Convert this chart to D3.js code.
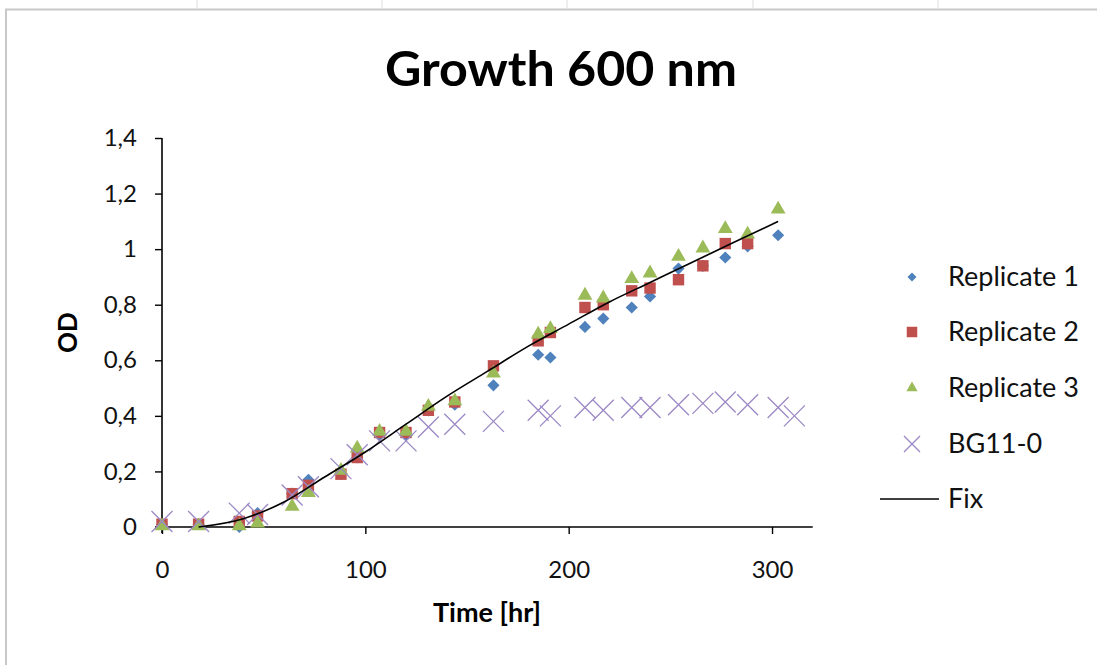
<!DOCTYPE html>
<html>
<head>
<meta charset="utf-8">
<script src="https://cdn.jsdelivr.net/npm/d3@7"></script>
<style>
  body { margin: 0; background: #fff; }
  svg { display: block; font-family: Lato, "Open Sans", sans-serif; }
</style>
</head>
<body>
<div id="chart"></div>
<script>
// Data
const times = [0, 18, 38, 47, 64, 72, 88, 96, 107, 120, 131, 144, 163, 185, 191, 208, 217, 231, 240, 254, 266, 277, 288, 303, 311];

const rep1 = [0.01, 0.01, 0.00, 0.05, 0.12, 0.17, 0.19, 0.25, 0.33, 0.33, 0.42, 0.44, 0.51, 0.62, 0.61, 0.72, 0.75, 0.79, 0.83, 0.93, 0.94, 0.97, 1.01, 1.05, null];
const rep2 = [0.01, 0.01, 0.02, 0.04, 0.12, 0.15, 0.19, 0.25, 0.34, 0.34, 0.42, 0.45, 0.58, 0.67, 0.70, 0.79, 0.80, 0.85, 0.86, 0.89, 0.94, 1.02, 1.02, null, null];
const rep3 = [0.00, 0.00, 0.00, 0.01, 0.07, 0.12, 0.20, 0.28, 0.34, 0.34, 0.43, 0.45, 0.55, 0.69, 0.71, 0.83, 0.82, 0.89, 0.91, 0.97, 1.00, 1.07, 1.05, 1.14, null];
const bg11 = [0.02, 0.02, 0.05, 0.045, 0.115, 0.145, 0.21, 0.26, 0.31, 0.31, 0.36, 0.37, 0.38, 0.42, 0.40, 0.43, 0.42, 0.43, 0.43, 0.44, 0.445, 0.45, 0.44, 0.43, 0.40];

const fixTimes  = [18, 40, 60, 80, 100, 120, 140, 160, 180, 200, 220, 240, 260, 280, 303];
const fixValues = [0.00, 0.03, 0.09, 0.18, 0.27, 0.37, 0.47, 0.56, 0.65, 0.73, 0.81, 0.88, 0.95, 1.02, 1.10];

const xTicks = [0, 100, 200, 300];
const yTicks = [0, 0.2, 0.4, 0.6, 0.8, 1, 1.2, 1.4];
const yTickLabels = ["0", "0,2", "0,4", "0,6", "0,8", "1", "1,2", "1,4"];

const seriesNames = ["Replicate 1", "Replicate 2", "Replicate 3", "BG11-0", "Fix"];

// Layout
const width = 1097, height = 665;
const plot = { left: 162, right: 812.7, top: 138, bottom: 527 };
const colors = { rep1: "#4F81BD", rep2: "#C0504D", rep3: "#9BBB59", bg11: "#9B88C4", fix: "#000" };
const tickFont = 24;
const titleFont = 27;
const legendFont = 27;

const svg = d3.select("#chart").append("svg")
  .attr("width", width)
  .attr("height", height);

// Chart frame (spreadsheet border)
svg.append("path")
  .attr("d", `M6,${height} V9.5 H${width}`)
  .attr("fill", "none")
  .attr("stroke", "#c8c8c8")
  .attr("stroke-width", 2);
[197, 382, 567, 753, 938].forEach(gx => {
  svg.append("line")
    .attr("x1", gx).attr("x2", gx).attr("y1", 0).attr("y2", 8)
    .attr("stroke", "#ddd").attr("stroke-width", 1);
});

const x = d3.scaleLinear().domain([0, 320]).range([plot.left, plot.right]);
const y = d3.scaleLinear().domain([0, 1.4]).range([plot.bottom, plot.top]);

// Title
svg.append("text")
  .attr("x", 561)
  .attr("y", 86)
  .attr("text-anchor", "middle")
  .attr("font-weight", "bold")
  .attr("font-size", 48)
  .attr("textLength", 352)
  .attr("lengthAdjust", "spacingAndGlyphs")
  .text("Growth 600 nm");

// Y axis
const yAxisG = svg.append("g")
  .attr("transform", `translate(${plot.left},0)`)
  .call(d3.axisLeft(y)
    .tickValues(yTicks)
    .tickSize(7)
    .tickSizeOuter(0)
    .tickPadding(18)
    .tickFormat((d, i) => yTickLabels[i]));
yAxisG.select(".domain").attr("stroke", "#000").attr("stroke-width", 1.6)
  .attr("d", `M0,${plot.top}V${plot.bottom + 6}`);
yAxisG.selectAll(".tick line").attr("stroke", "#000").attr("stroke-width", 1.4);
yAxisG.selectAll(".tick text")
  .attr("font-size", tickFont)
  .attr("font-family", "Lato, sans-serif")
  .attr("fill", "#111");

// X axis
const xAxisG = svg.append("g")
  .attr("transform", `translate(0,${plot.bottom})`)
  .call(d3.axisBottom(x)
    .tickValues(xTicks)
    .tickSize(7)
    .tickSizeOuter(0)
    .tickPadding(27));
xAxisG.select(".domain").attr("stroke", "#000").attr("stroke-width", 1.6)
  .attr("d", `M${plot.left - 7},0H${plot.right}`);
xAxisG.selectAll(".tick line").attr("stroke", "#000").attr("stroke-width", 1.4);
xAxisG.selectAll(".tick text")
  .attr("font-size", tickFont)
  .attr("font-family", "Lato, sans-serif")
  .attr("fill", "#111");

// Axis titles
svg.append("text")
  .attr("x", 487)
  .attr("y", 622)
  .attr("text-anchor", "middle")
  .attr("font-weight", "bold")
  .attr("font-size", titleFont)
  .text("Time [hr]");

svg.append("text")
  .attr("transform", `translate(77,${(plot.top + plot.bottom) / 2}) rotate(-90)`)
  .attr("text-anchor", "middle")
  .attr("font-weight", "bold")
  .attr("font-size", 26)
  .text("OD");

// Marker helpers
const diamond = d3.symbol().type(d3.symbolSquare).size(74);
const square = d3.symbol().type(d3.symbolSquare).size(130);
const triangle = d3.symbol().type(d3.symbolTriangle).size(95);
function crossPath(s) {
  return `M${-s},${-s}L${s},${s}M${-s},${s}L${s},${-s}`;
}

function pairs(vals) {
  return times.map((t, i) => ({ t, v: vals[i] })).filter(d => d.v !== null);
}

const marks = svg.append("g");

marks.selectAll(".rep1")
  .data(pairs(rep1))
  .enter().append("path")
  .attr("class", "rep1")
  .attr("d", diamond)
  .attr("transform", d => `translate(${x(d.t)},${y(d.v)}) rotate(45)`)
  .attr("fill", colors.rep1);

marks.selectAll(".rep2")
  .data(pairs(rep2))
  .enter().append("path")
  .attr("class", "rep2")
  .attr("d", square)
  .attr("transform", d => `translate(${x(d.t)},${y(d.v)})`)
  .attr("fill", colors.rep2);

marks.selectAll(".rep3")
  .data(pairs(rep3))
  .enter().append("path")
  .attr("class", "rep3")
  .attr("d", triangle)
  .attr("transform", d => `translate(${x(d.t)},${y(d.v) - 1})`)
  .attr("fill", colors.rep3);

marks.selectAll(".bg11")
  .data(pairs(bg11))
  .enter().append("path")
  .attr("class", "bg11")
  .attr("d", crossPath(10.5))
  .attr("transform", d => `translate(${x(d.t)},${y(d.v)})`)
  .attr("fill", "none")
  .attr("stroke", colors.bg11)
  .attr("stroke-width", 1.3);

// Fitted line
const line = d3.line()
  .x((d, i) => x(fixTimes[i]))
  .y(d => y(d))
  .curve(d3.curveMonotoneX);
svg.append("path")
  .datum(fixValues)
  .attr("d", line)
  .attr("fill", "none")
  .attr("stroke", colors.fix)
  .attr("stroke-width", 1.6);

// Legend
const legendY = [277, 332, 388, 444, 499];
const legend = svg.append("g");
seriesNames.forEach((name, i) => {
  const g = legend.append("g").attr("transform", `translate(912,${legendY[i]})`);
  if (i === 0) g.append("path").attr("d", d3.symbol().type(d3.symbolSquare).size(40)).attr("transform", "rotate(45)").attr("fill", colors.rep1);
  if (i === 1) g.append("path").attr("d", d3.symbol().type(d3.symbolSquare).size(110)).attr("fill", colors.rep2);
  if (i === 2) g.append("path").attr("d", d3.symbol().type(d3.symbolTriangle).size(55)).attr("fill", colors.rep3);
  if (i === 3) g.append("path").attr("d", crossPath(8)).attr("stroke", colors.bg11).attr("stroke-width", 1.3).attr("fill", "none");
  if (i === 4) g.append("line").attr("x1", -32).attr("x2", 27).attr("stroke", "#000").attr("stroke-width", 1.6);
  g.append("text")
    .attr("x", 36)
    .attr("y", 0)
    .attr("dy", "0.35em")
    .attr("font-size", legendFont)
    .attr("fill", "#111")
    .text(name);
});
</script>
</body>
</html>
